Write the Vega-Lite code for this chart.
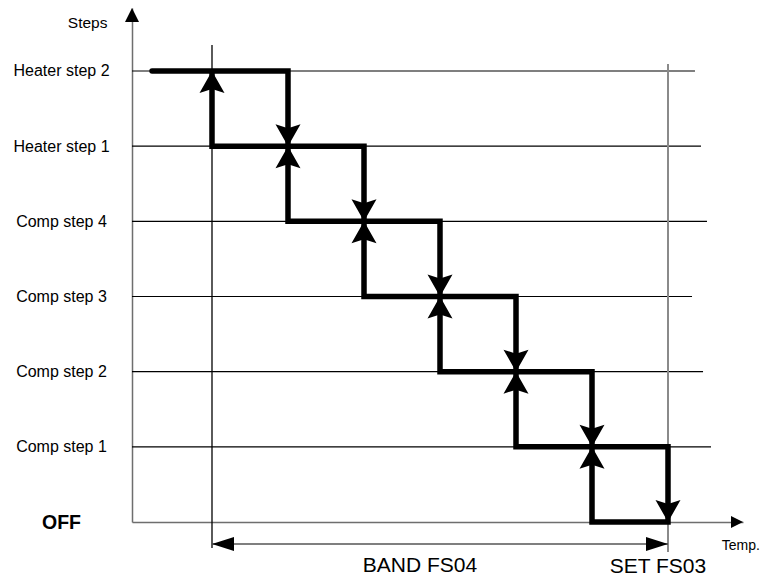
{
  "$schema": "https://vega.github.io/schema/vega-lite/v6.json",
  "width": 611,
  "height": 514,
  "autosize": {"type": "none"},
  "padding": {"left": 132, "top": 8, "right": 18, "bottom": 55},
  "background": "white",
  "config": {"view": {"stroke": null}, "font": "Liberation Sans"},
  "datasets": {
    "grid": [
      {"y": 6, "x": -1.0526, "x2": 6.355},
      {"y": 5, "x": -1.0526, "x2": 6.434},
      {"y": 4, "x": -1.0526, "x2": 6.513},
      {"y": 3, "x": -1.0526, "x2": 6.316},
      {"y": 2, "x": -1.0526, "x2": 6.461},
      {"y": 1, "x": -1.0526, "x2": 6.566}
    ],
    "guides": [
      {"name": "band start", "x": 0, "y": 6.346, "y2": -0.346},
      {"name": "set point", "x": 6, "y": 6.093, "y2": -0.4}
    ],
    "band": [{"x": 0, "x2": 6, "y": -0.293}],
    "staircase": [
      {"i": 0, "x": -0.789, "y": 6},
      {"i": 1, "x": 1, "y": 6},
      {"i": 2, "x": 1, "y": 5},
      {"i": 3, "x": 2, "y": 5},
      {"i": 4, "x": 2, "y": 4},
      {"i": 5, "x": 3, "y": 4},
      {"i": 6, "x": 3, "y": 3},
      {"i": 7, "x": 4, "y": 3},
      {"i": 8, "x": 4, "y": 2},
      {"i": 9, "x": 5, "y": 2},
      {"i": 10, "x": 5, "y": 1},
      {"i": 11, "x": 6, "y": 1},
      {"i": 12, "x": 6, "y": 0},
      {"i": 13, "x": 5, "y": 0},
      {"i": 14, "x": 5, "y": 1},
      {"i": 15, "x": 4, "y": 1},
      {"i": 16, "x": 4, "y": 2},
      {"i": 17, "x": 3, "y": 2},
      {"i": 18, "x": 3, "y": 3},
      {"i": 19, "x": 2, "y": 3},
      {"i": 20, "x": 2, "y": 4},
      {"i": 21, "x": 1, "y": 4},
      {"i": 22, "x": 1, "y": 5},
      {"i": 23, "x": 0, "y": 5},
      {"i": 24, "x": 0, "y": 6}
    ],
    "arrows": [
      {"kind": "step-up", "x": 0, "y": 6},
      {"kind": "step-up", "x": 1, "y": 5},
      {"kind": "step-up", "x": 2, "y": 4},
      {"kind": "step-up", "x": 3, "y": 3},
      {"kind": "step-up", "x": 4, "y": 2},
      {"kind": "step-up", "x": 5, "y": 1},
      {"kind": "step-down", "x": 1, "y": 5},
      {"kind": "step-down", "x": 2, "y": 4},
      {"kind": "step-down", "x": 3, "y": 3},
      {"kind": "step-down", "x": 4, "y": 2},
      {"kind": "step-down", "x": 5, "y": 1},
      {"kind": "step-down", "x": 6, "y": 0},
      {"kind": "band-left", "x": 0, "y": -0.293},
      {"kind": "band-right", "x": 6, "y": -0.293},
      {"kind": "axis-up", "x": -1.0526, "y": 6.838},
      {"kind": "axis-right", "x": 6.9868, "y": 0}
    ],
    "bigNotes": [
      {"label": "BAND FS04", "x": 2.737, "y": -0.661},
      {"label": "SET FS03", "x": 5.868, "y": -0.682}
    ],
    "smallNotes": [
      {"label": "Temp.", "x": 6.707, "y": -0.372}
    ]
  },
  "encoding": {
    "x": {
      "field": "x",
      "type": "quantitative",
      "scale": {"domain": [-1.0526, 6.9868], "nice": false, "zero": false},
      "axis": {
        "labels": false,
        "ticks": false,
        "grid": false,
        "title": null,
        "domainColor": "#6e6e6e",
        "domainWidth": 1.5
      }
    },
    "y": {
      "field": "y",
      "type": "quantitative",
      "scale": {"domain": [0, 6.838], "nice": false, "zero": false},
      "axis": {
        "values": [0, 1, 2, 3, 4, 5, 6],
        "labelExpr": "['OFF', 'Comp step 1', 'Comp step 2', 'Comp step 3', 'Comp step 4', 'Heater step 1', 'Heater step 2'][datum.value]",
        "ticks": false,
        "grid": false,
        "domainColor": "#6e6e6e",
        "domainWidth": 1.5,
        "labelAlign": "center",
        "labelBaseline": "middle",
        "labelPadding": 71,
        "labelFlush": false,
        "labelOverlap": false,
        "labelColor": "black",
        "labelFont": "Liberation Sans",
        "labelFontSize": {"condition": {"test": "datum.value === 0", "value": 19.5}, "value": 16},
        "labelFontWeight": {"condition": {"test": "datum.value === 0", "value": "bold"}, "value": "normal"},
        "title": "Steps",
        "titleAngle": 0,
        "titleX": -25,
        "titleY": 14,
        "titleAlign": "right",
        "titleBaseline": "middle",
        "titleFont": "Liberation Sans",
        "titleFontSize": 15.5,
        "titleFontWeight": "normal",
        "titleColor": "black"
      }
    }
  },
  "layer": [
    {
      "data": {"name": "grid"},
      "mark": {"type": "rule", "stroke": "#000000", "strokeWidth": 1.2},
      "encoding": {"x2": {"field": "x2"}}
    },
    {
      "data": {"name": "guides"},
      "mark": {"type": "rule"},
      "encoding": {
        "y2": {"field": "y2"},
        "color": {
          "field": "name",
          "type": "nominal",
          "scale": {"domain": ["band start", "set point"], "range": ["#000000", "#8a8a8a"]},
          "legend": null
        },
        "strokeWidth": {
          "field": "name",
          "type": "nominal",
          "scale": {"domain": ["band start", "set point"], "range": [1.3, 2]},
          "legend": null
        }
      }
    },
    {
      "data": {"name": "band"},
      "mark": {"type": "rule", "stroke": "#555555", "strokeWidth": 1.5},
      "encoding": {"x2": {"field": "x2"}}
    },
    {
      "data": {"name": "staircase"},
      "mark": {
        "type": "line",
        "color": "black",
        "strokeWidth": 5.5,
        "strokeCap": "round",
        "strokeJoin": "miter"
      },
      "encoding": {"order": {"field": "i", "type": "quantitative"}}
    },
    {
      "data": {"name": "arrows"},
      "mark": {"type": "point", "filled": true, "opacity": 1, "color": "black", "strokeWidth": 0, "size": 4},
      "encoding": {
        "shape": {
          "field": "kind",
          "type": "nominal",
          "scale": {
            "domain": ["step-up", "step-down", "band-left", "band-right", "axis-up", "axis-right"],
            "range": [
              "M0,0L12.5,22L0,18L-12.5,22Z",
              "M0,0L12.5,-22L0,-18L-12.5,-22Z",
              "M0,0L22,-7L22,7Z",
              "M0,0L-22,-7L-22,7Z",
              "M0,0L7,14L-7,14Z",
              "M0,0L-12,-6L-12,6Z"
            ]
          },
          "legend": null
        }
      }
    },
    {
      "data": {"name": "bigNotes"},
      "mark": {"type": "text", "fontSize": 21, "font": "Liberation Sans", "align": "center", "baseline": "alphabetic", "color": "black"},
      "encoding": {"text": {"field": "label"}}
    },
    {
      "data": {"name": "smallNotes"},
      "mark": {"type": "text", "fontSize": 14, "font": "Liberation Sans", "align": "left", "baseline": "alphabetic", "color": "black"},
      "encoding": {"text": {"field": "label"}}
    }
  ]
}
